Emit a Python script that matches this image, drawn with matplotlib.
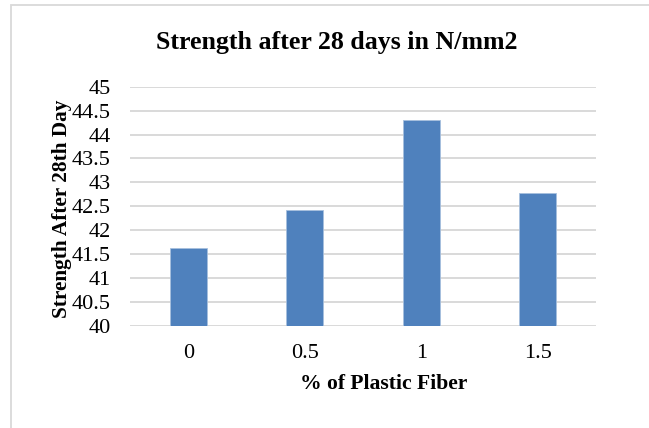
import numpy as np
import matplotlib.pyplot as plt
from matplotlib.patches import Rectangle

# compressive strength after 28 days for each plastic fibre dosage
fiber_pct = ['0', '0.5', '1', '1.5']
strength = [41.62, 42.42, 44.30, 42.78]
y_ticks = [40, 40.5, 41, 41.5, 42, 42.5, 43, 43.5, 44, 44.5, 45]

plt.rcParams['font.family'] = ['Liberation Serif', 'DejaVu Serif']

fig = plt.figure(figsize=(6.49, 4.28), dpi=100)
ax = fig.add_axes([130 / 649, 1 - 326 / 428, 466 / 649, (326 - 86.7) / 428])

# light outer chart border (top and left edges visible)
fig.patches.append(Rectangle((10.5 / 649, -0.1), 1.2, (1 - 4.5 / 428) + 0.1,
                             transform=fig.transFigure, fill=False,
                             edgecolor='#d9d9d9', linewidth=1.3))

x = np.arange(len(fiber_pct))
ax.bar(x, strength, width=0.32, bottom=0, color='#4f81bd',
       edgecolor='#a7c0de', linewidth=0.6, zorder=3)

ax.set_xlim(-0.5, len(fiber_pct) - 0.5)
ax.set_ylim(40, 45)
ax.set_yticks(y_ticks)
ax.set_yticklabels([f'{v:g}' for v in y_ticks])
ax.set_xticks(x)
ax.set_xticklabels(fiber_pct)

ax.grid(axis='y', color='#d9d9d9', linewidth=1.4, zorder=0)
for s in ax.spines.values():
    s.set_visible(False)
ax.tick_params(axis='both', length=0, labelsize=16, colors='#000000')
ax.tick_params(axis='y', pad=14)
ax.tick_params(axis='x', pad=13)

fig.text(337 / 649, 1 - 42 / 428, 'Strength after 28 days in N/mm2',
         ha='center', va='center', fontsize=18.6, fontweight='bold')
fig.text(384 / 649, 1 - 384 / 428, '% of Plastic Fiber',
         ha='center', va='center', fontsize=15.6, fontweight='bold')
fig.text(62 / 649, 1 - 209 / 428, 'Strength After 28th Day',
         ha='center', va='center', rotation=90, fontsize=15.3, fontweight='bold')

fig.savefig('out.png', dpi=100, facecolor='white')
